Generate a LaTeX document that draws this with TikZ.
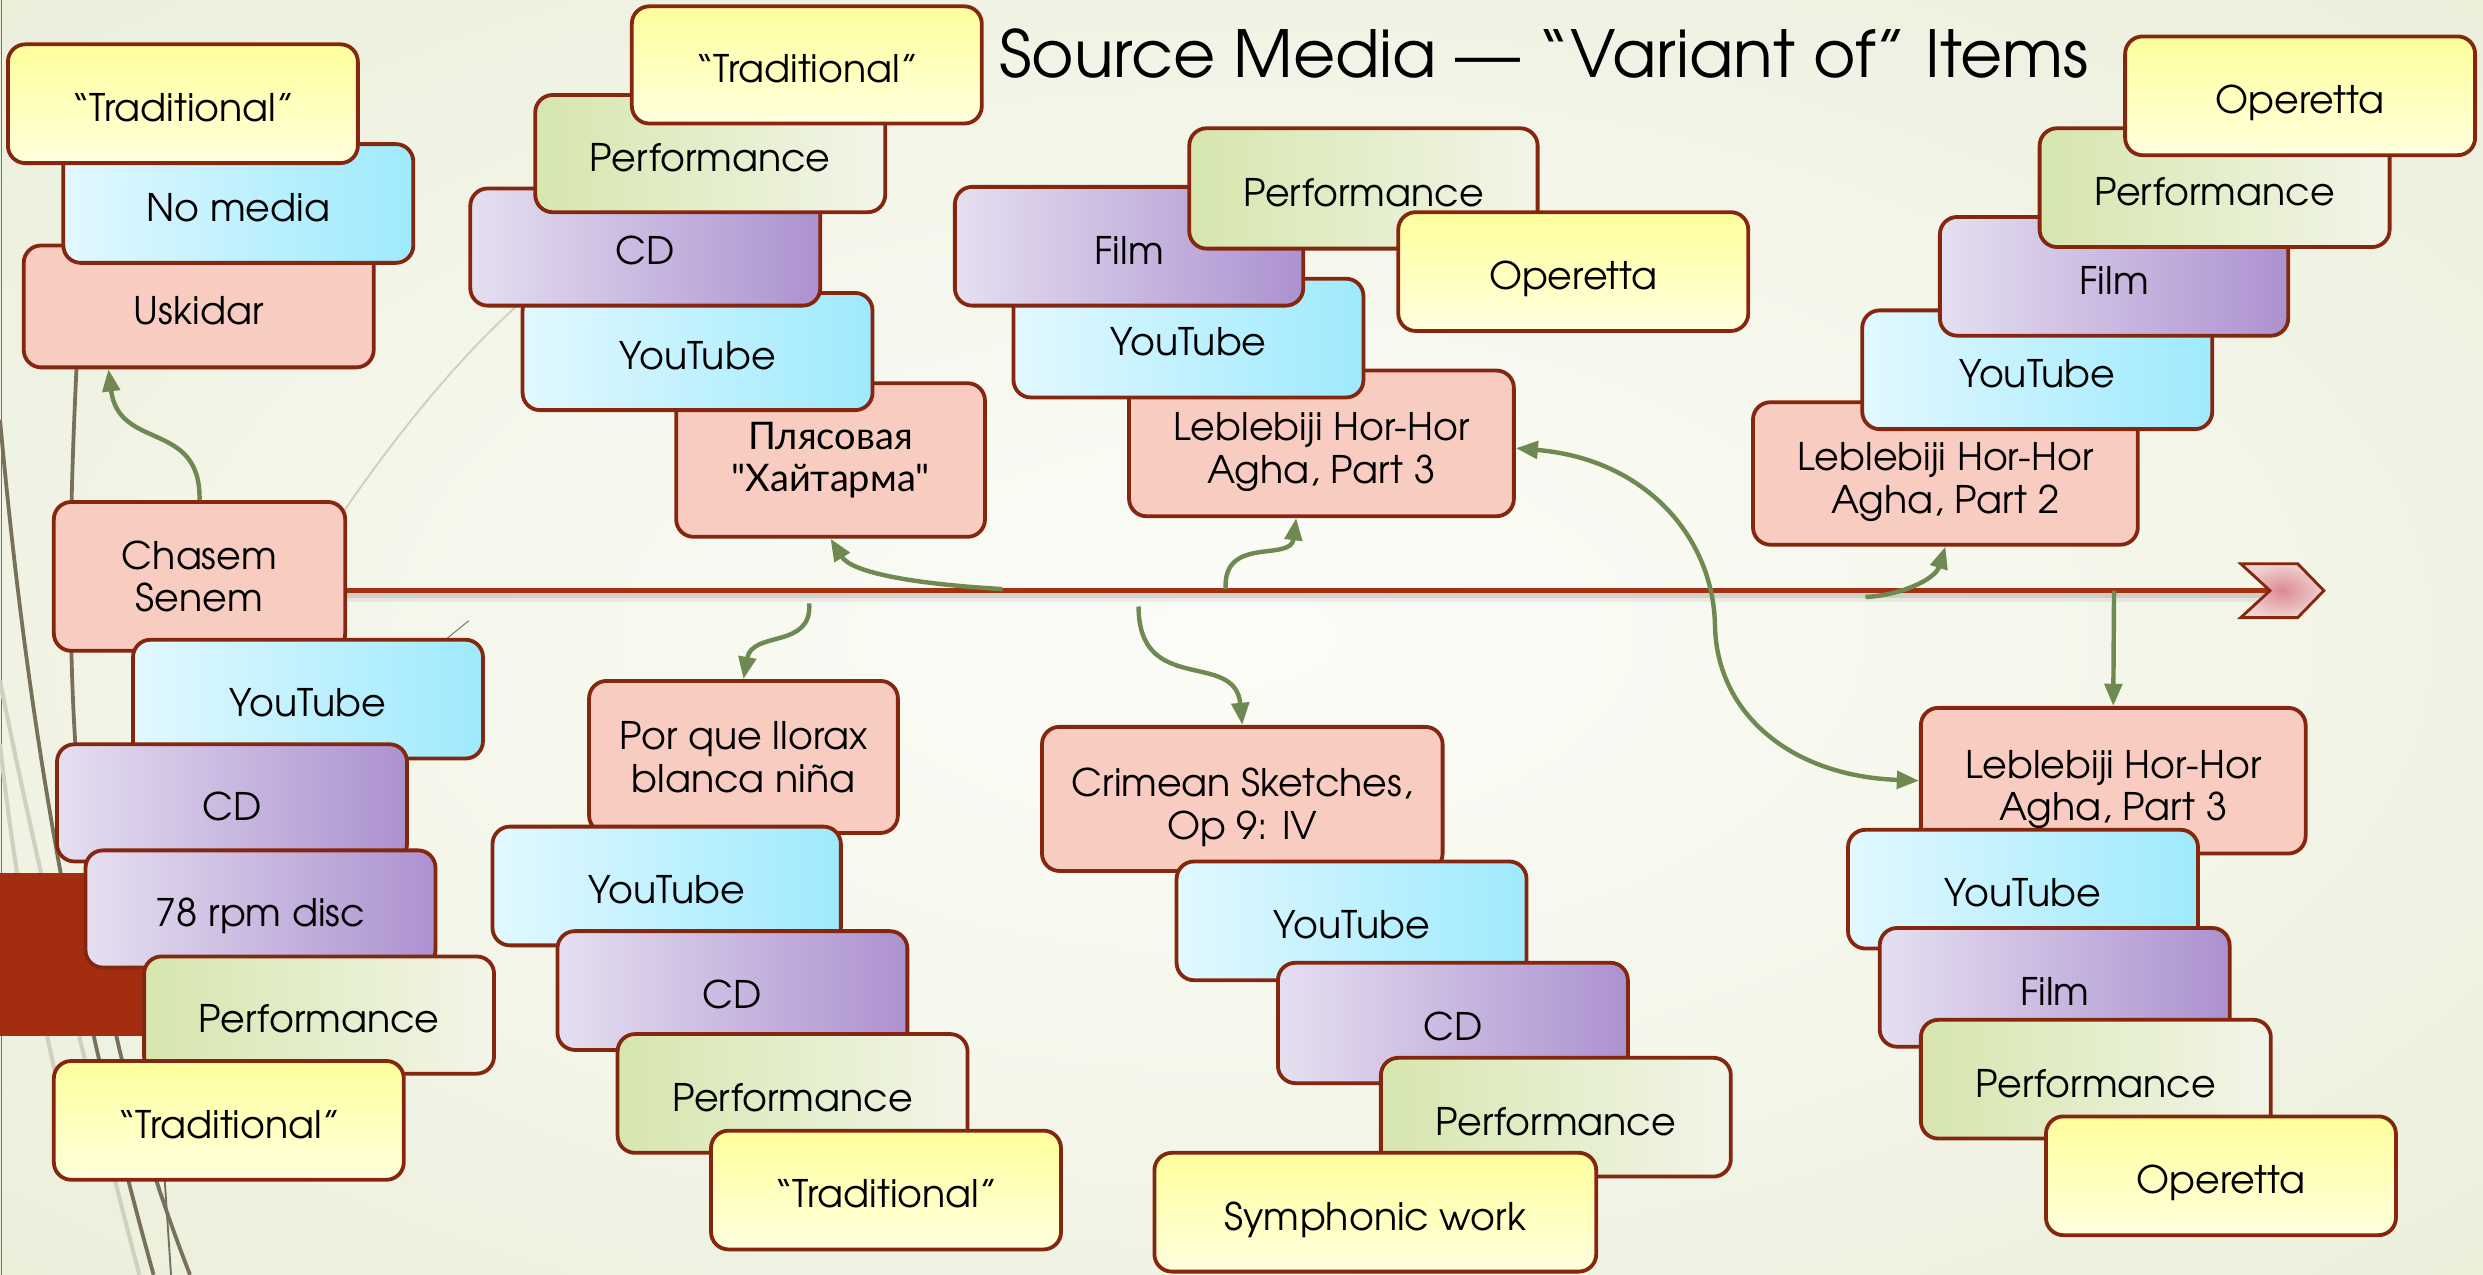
\documentclass[tikz,border=0pt]{standalone}
\usepackage{fontspec}
\setmainfont{TeX Gyre Adventor}
\newfontfamily\cyrfont{Lato}
\usetikzlibrary{arrows.meta}

% palette
\definecolor{boxedge}{HTML}{85270F}
\definecolor{axisred}{HTML}{A3300F}
\definecolor{linkc}{HTML}{6F8A50}
\definecolor{yelT}{HTML}{FFFF9C}
\definecolor{yelB}{HTML}{FFFFDE}
\definecolor{cyaL}{HTML}{E2F8FF}
\definecolor{cyaR}{HTML}{9EEAFD}
\definecolor{purL}{HTML}{E6DFF0}
\definecolor{purR}{HTML}{AC91D0}
\definecolor{grnL}{HTML}{D6E6AE}
\definecolor{grnR}{HTML}{F2F5E8}
\definecolor{pnk}{HTML}{F9CCC1}
\definecolor{bgIn}{HTML}{FCFCF8}
\definecolor{bgMid}{HTML}{F5F7EC}
\definecolor{bgOut}{HTML}{E2E8CC}
\definecolor{decoDarkc}{HTML}{78715A}
\definecolor{decoLightc}{HTML}{CFD1BC}
\definecolor{barred}{HTML}{A22D0F}
\definecolor{chevIn}{HTML}{DB8A8F}
\definecolor{chevOut}{HTML}{F0D2D2}

\pgfdeclareradialshading{bgglow}{\pgfpoint{0bp}{0bp}}{color(0bp)=(bgIn); color(16bp)=(bgMid); color(50bp)=(bgOut); color(72bp)=(bgOut)}

\tikzset{
  srcbase/.style={draw=boxedge, line width=2.4pt, rounded corners=11pt, align=center,
    inner sep=0pt, text=black, font=\fontsize{24}{27}\selectfont},
  oneline/.style={text height=26pt, text depth=3.5pt},
  yelbox/.style={srcbase, top color=yelT, bottom color=yelB},
  cyabox/.style={srcbase, left color=cyaL, right color=cyaR},
  purbox/.style={srcbase, left color=purL, right color=purR},
  grnbox/.style={srcbase, left color=grnL, right color=grnR},
  pnkbox/.style={srcbase, fill=pnk},
  linkarrow/.style={draw=linkc, line width=2.8pt, -{Triangle[length=14pt,width=11pt]}},
  axisline/.style={draw=axisred, line width=2.8pt},
  decoDark/.style={draw=decoDarkc, line width=2.4pt},
  decoLight/.style={draw=decoLightc, line width=2.6pt},
}

% box from its corners: style, name, x1, y1, x2, y2, text
\newcommand\srcbox[7]{%
  \node[#1, minimum width={(#5-#3)*1pt}, minimum height={(#6-#4)*1pt}]
    (#2) at ({(#3+#5)/2},{(#4+#6)/2}) {#7};}
% two-line title set a little below the box centre
\newcommand\lowpair[1]{\raisebox{-6.5pt}[\height][\depth]{\begin{tabular}{@{}c@{}}#1\end{tabular}}}

\begin{document}
\begin{tikzpicture}[x=1pt,y=-1pt]
\useasboundingbox (0,0) rectangle (1568,805);

% backdrop
\shade[shading=bgglow] (0,0) rectangle (1568,805);

% sweeping lines along the left margin
\draw[decoDark, line width=1pt] (1,0) -- (1,805);
\draw[decoLight] (0,430) .. controls (20,530) and (50,660) .. (88,805);
\draw[decoLight] (0,470) .. controls (10,560) and (25,640) .. (45,720);
\draw[decoDark] (0,265) .. controls (15,430) and (40,600) .. (97,805);
\draw[decoDark] (50,200) .. controls (38,420) and (40,600) .. (120,805);
\draw[decoDark, line width=1.2pt] (104,745) -- (108,805);
\draw[draw=decoLightc, line width=1.2pt] (217,323) .. controls (250,275) and (290,225) .. (330,190);
\draw[draw=decoDarkc, line width=0.6pt] (280,405) -- (296,392);

% accent bar at the left edge
\fill[barred] (0,551) rectangle (91,654);

% time axis
\coordinate (axisL) at (218,373);
\coordinate (axisR) at (1433.5,373);
\draw[line width=6pt, black, opacity=0.06] ([yshift=-4pt]axisL) -- ([yshift=-4pt]axisR);
\draw[line width=3pt, black, opacity=0.10] ([yshift=-3pt]axisL) -- ([yshift=-3pt]axisR);
\draw[axisline] (axisL) -- (axisR);
\shadedraw[draw=boxedge, line width=1.8pt, inner color=chevIn, outer color=chevOut]
  (1415,356) -- (axisR) -- (1415,390) -- (1451,390) -- (1467.5,373) -- (1451,356) -- cycle;

% Uskidar group
\srcbox{pnkbox,oneline}{uskidar}{15}{155}{236}{232}{Uskidar}
\srcbox{cyabox,oneline}{nomedia}{40}{91}{261}{166}{No media}
\srcbox{yelbox,oneline}{tradA}{5}{28}{226}{103}{“Traditional”}

% Chasem Senem group
\srcbox{pnkbox}{chasem}{34}{317}{218}{411}{Chasem\\Senem}
\srcbox{cyabox,oneline}{ytA}{84}{404}{305}{479}{YouTube}
\srcbox{purbox,oneline}{cdA}{36}{470}{257}{544}{CD}
\srcbox{purbox,oneline}{disc}{54}{537}{275}{611}{78 rpm disc}
\srcbox{grnbox,oneline}{perfA}{91}{604}{312}{678}{Performance}
\srcbox{yelbox,oneline}{tradB}{34}{670}{255}{745}{“Traditional”}

% Khaitarma group
\srcbox{pnkbox, font=\cyrfont\fontsize{24}{27}\selectfont}{plyas}{427}{242}{622}{339}{Плясовая\\"Хайтарма"}
\srcbox{cyabox,oneline}{ytB}{330}{185}{551}{259}{YouTube}
\srcbox{purbox,oneline}{cdB}{297}{119}{518}{193}{CD}
\srcbox{grnbox,oneline}{perfB}{338}{60}{559}{134}{Performance}
\srcbox{yelbox,oneline}{tradC}{399}{4}{620}{78}{“Traditional”}

% Leblebiji part 3 (upper) group
\srcbox{pnkbox}{lebTop}{713}{234}{956}{326}{\lowpair{Leblebiji Hor-Hor\\Agha, Part 3}}
\srcbox{cyabox,oneline}{ytC}{640}{176}{861}{251}{YouTube}
\srcbox{purbox,oneline}{filmC}{603}{118}{823}{193}{Film}
\srcbox{grnbox,oneline}{perfC}{751}{81}{971}{157}{Performance}
\srcbox{yelbox,oneline}{operC}{883}{134}{1104}{209}{Operetta}

% Leblebiji part 2 group
\srcbox{pnkbox}{lebP2}{1107}{254}{1350}{344}{\lowpair{Leblebiji Hor-Hor\\Agha, Part 2}}
\srcbox{cyabox,oneline}{ytD}{1176}{196}{1397}{271}{YouTube}
\srcbox{purbox,oneline}{filmD}{1225}{137}{1445}{212}{Film}
\srcbox{grnbox,oneline}{perfD}{1288}{81}{1509}{156}{Performance}
\srcbox{yelbox,oneline}{operD}{1342}{23}{1563}{98}{Operetta}

% Por que llorax group
\srcbox{pnkbox}{porque}{372}{430}{567}{526}{Por que llorax\\blanca niña}
\srcbox{cyabox,oneline}{ytE}{311}{522}{531}{597}{YouTube}
\srcbox{purbox,oneline}{cdE}{352}{588}{573}{663}{CD}
\srcbox{grnbox,oneline}{perfE}{390}{653}{611}{728}{Performance}
\srcbox{yelbox,oneline}{tradE}{449}{714}{670}{789}{“Traditional”}

% Crimean Sketches group
\srcbox{pnkbox}{crimean}{658}{459}{911}{550}{\lowpair{Crimean Sketches,\\Op 9: IV}}
\srcbox{cyabox,oneline}{ytF}{743}{544}{964}{619}{YouTube}
\srcbox{purbox,oneline}{cdF}{807}{608}{1028}{684}{CD}
\srcbox{grnbox,oneline}{perfF}{872}{668}{1093}{743}{Performance}
\srcbox{yelbox,oneline}{symph}{729}{728}{1008}{803}{Symphonic work}

% Leblebiji part 3 (lower) group
\srcbox{pnkbox}{lebBot}{1213}{447}{1456}{539}{\lowpair{Leblebiji Hor-Hor\\Agha, Part 3}}
\srcbox{cyabox,oneline}{ytG}{1167}{524}{1388}{599}{YouTube}
\srcbox{purbox,oneline}{filmG}{1187}{586}{1408}{661}{Film}
\srcbox{grnbox,oneline}{perfG}{1213}{644}{1434}{719}{Performance}
\srcbox{yelbox,oneline}{operG}{1292}{705}{1513}{780}{Operetta}

% "variant of" links
\coordinate (v1) at (633,372);
\coordinate (v2) at (774,372);
\coordinate (v3) at (511,381);
\coordinate (v4) at (719,383);
\coordinate (v5) at (1178,377);
\coordinate (v6) at (1335,373);

\draw[linkarrow] (chasem.north) .. controls (127,265) and (75,285) .. ([xshift=-57pt]uskidar.south);
\draw[linkarrow] (v1) .. controls (580,369) and (538,362) .. (plyas.south);
\draw[linkarrow] (v2) .. controls (772,338) and (815,355) .. ([xshift=-16pt]lebTop.south);
\draw[linkarrow] (v3) .. controls (513,410) and (475,398) .. (porque.north);
\draw[linkarrow] (v4) .. controls (719,440) and (780,410) .. (crimean.north);
\draw[linkarrow, {Triangle[length=14pt,width=11pt]}-{Triangle[length=14pt,width=11pt]}]
  ([yshift=-3pt]lebTop.east) .. controls (1040,290) and (1082,340) .. (1083,395)
  .. controls (1084,450) and (1130,490) .. (lebBot.west);
\draw[linkarrow] (v5) .. controls (1200,376) and (1222,366) .. (lebP2.south);
\draw[linkarrow] (v6) -- (lebBot.north);

% heading
\node[anchor=base, font=\fontsize{41}{48}\selectfont] (title) at (975,49)
  {Source Media — “Variant of” Items};
\end{tikzpicture}
\end{document}
